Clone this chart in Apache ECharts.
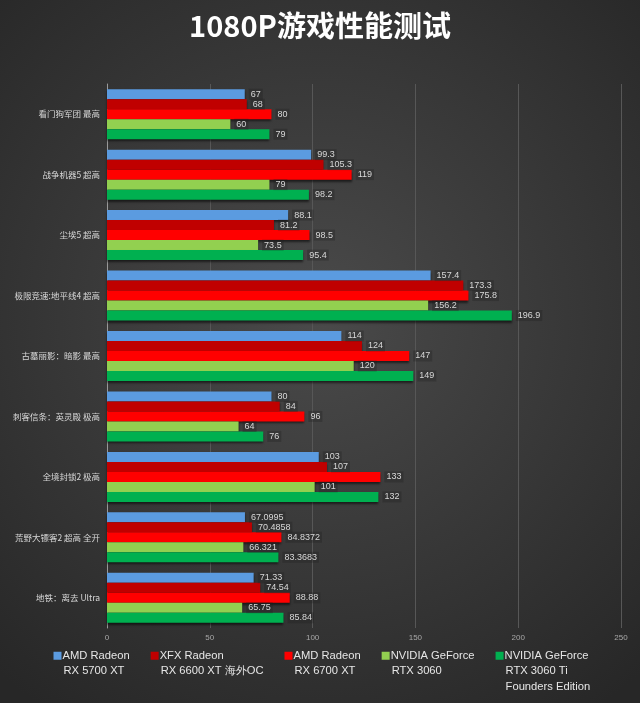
<!DOCTYPE html>
<html>
<head>
<meta charset="utf-8">
<script src="https://cdn.jsdelivr.net/npm/echarts@6/dist/echarts.min.js"></script>
<style>html,body{margin:0;padding:0;background:#333;}#c{width:640px;height:703px;}</style>
</head>
<body>
<div id="c"></div>
<script>
const titleText = '1080P游戏性能测试';
const categories = ['看门狗军团 最高','战争机器5 超高','尘埃5 超高','极限竞速:地平线4 超高','古墓丽影：暗影 最高','刺客信条：英灵殿 极高','全境封锁2 极高','荒野大镖客2 超高 全开','地铁：离去 Ultra'];
const seriesNames = ['AMD Radeon RX 5700 XT','XFX Radeon RX 6600 XT 海外OC','AMD Radeon RX 6700 XT','NVIDIA GeForce RTX 3060','NVIDIA GeForce RTX 3060 Ti Founders Edition'];
const legendLines = [['AMD Radeon','RX 5700 XT'],['XFX Radeon','RX 6600 XT 海外OC'],['AMD Radeon','RX 6700 XT'],['NVIDIA GeForce','RTX 3060'],['NVIDIA GeForce','RTX 3060 Ti','Founders Edition']];
const rx5700xt = [67, 99.3, 88.1, 157.4, 114, 80, 103, 67.0995, 71.33];
const rx6600xt = [68, 105.3, 81.2, 173.3, 124, 84, 107, 70.4858, 74.54];
const rx6700xt = [80, 119, 98.5, 175.8, 147, 96, 133, 84.8372, 88.88];
const rtx3060 = [60, 79, 73.5, 156.2, 120, 64, 101, 66.321, 65.75];
const rtx3060ti = [79, 98.2, 95.4, 196.9, 149, 76, 132, 83.3683, 85.84];
const xTicks = {min: 0, max: 250, interval: 50};
const colors = ['#5B9BE0','#C00000','#FF0000','#92D050','#00B050'];
const seriesData = [rx5700xt, rx6600xt, rx6700xt, rtx3060, rtx3060ti];

const chart = echarts.init(document.getElementById('c'));
const LH = 15.5;
const rich = {
  t: {color:'#e6e6e6', fontSize:11.2, lineHeight:LH, fontFamily:'Liberation Sans, Arial, sans-serif', padding:[0,0,0,1]},
  sp: {width: 9, lineHeight:LH}
};
colors.forEach((c,i)=>{ rich['b'+i] = {width:8, height:8, backgroundColor:c, lineHeight:LH, fontSize:1}; });

chart.setOption({
  backgroundColor: {type:'radial', x:0.5, y:0.45, r:0.75, colorStops:[{offset:0,color:'#4a4a4a'},{offset:1,color:'#272727'}]},
  title: {text: titleText, left:'center', top:6, textStyle:{color:'#ffffff', fontSize:29, fontWeight:'bold', fontFamily:'Noto Sans CJK SC'}},
  grid: {left:107, right:19, top:84, bottom:75, containLabel:false, outerBoundsMode:'none'},
  legend: {
    left: 46.5, top: 648, padding: 0, itemGap: 14, itemWidth: 2, itemHeight: 8,
    itemStyle: {opacity: 0},
    data: seriesNames,
    formatter: function(name){
      const i = seriesNames.indexOf(name);
      const lines = legendLines[i].slice();
      while (lines.length < 3) lines.push(' ');
      return lines.map((l, k) => (k === 0 ? '{b'+i+'| }' : '{sp|}') + '{t|' + l + '}').join('\n');
    },
    textStyle: {rich: rich, color:'#e6e6e6', fontSize:11.2, lineHeight:LH}
  },
  xAxis: {
    type:'value', min:xTicks.min, max:xTicks.max, interval:xTicks.interval,
    axisLine:{show:false}, axisTick:{show:false},
    axisLabel:{color:'#a8a8a8', fontSize:8, margin:6, fontFamily:'Liberation Sans'},
    splitLine:{lineStyle:{color:'#575757', width:1}}
  },
  yAxis: {
    type:'category', data:categories, inverse:true,
    axisLine:{lineStyle:{color:'#9a9a9a', width:1}}, axisTick:{show:false},
    axisLabel:{color:'#d8d8d8', fontSize:8.5, margin:7, fontFamily:'Noto Sans CJK SC'}
  },
  series: seriesData.map((d,i)=>({
    type:'bar', name: seriesNames[i], data: d, barWidth: 10, barGap: '0%',
    itemStyle:{color: colors[i], shadowColor:'rgba(0,0,0,0.55)', shadowBlur:2, shadowOffsetY:2},
    label:{show:true, position:'right', distance:4, color:'#d8d8d8', fontSize:9, fontFamily:'Liberation Sans',
      backgroundColor:'rgba(30,30,30,0.3)', padding:[1,2]}
  })),
  animation:false
});
</script>
</body>
</html>
